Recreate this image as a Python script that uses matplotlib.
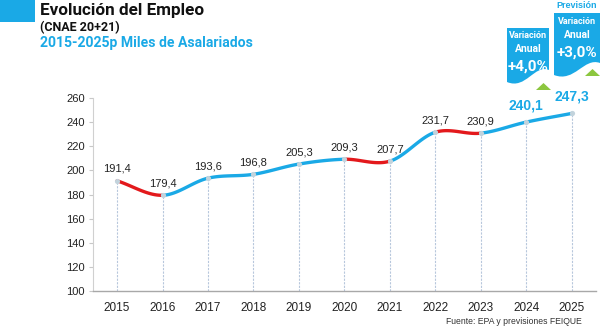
import numpy as np
import matplotlib
import matplotlib.pyplot as plt
from matplotlib.path import Path
from matplotlib.patches import PathPatch, Polygon, Rectangle

matplotlib.rcParams['font.family'] = ['Liberation Sans', 'DejaVu Sans']

# datos: miles de asalariados (2024 y 2025 previsión)
years = [2015, 2016, 2017, 2018, 2019, 2020, 2021, 2022, 2023, 2024, 2025]
empleo = [191.4, 179.4, 193.6, 196.8, 205.3, 209.3, 207.7, 231.7, 230.9, 240.1, 247.3]
variacion = ['+4,0%', '+3,0%']
yticks = [100, 120, 140, 160, 180, 200, 220, 240, 260]

AZUL = '#1aa9e6'
ROJO = '#e3191c'
VERDE = '#8cc63f'


def catmull_rom(xs, ys, n=30):
    # tramos suavizados entre puntos consecutivos
    xs = np.asarray(xs, float)
    ys = np.asarray(ys, float)
    px = np.concatenate([[2 * xs[0] - xs[1]], xs, [2 * xs[-1] - xs[-2]]])
    py = np.concatenate([[2 * ys[0] - ys[1]], ys, [2 * ys[-1] - ys[-2]]])
    tramos = []
    t = np.linspace(0, 1, n)
    for i in range(1, len(px) - 2):
        p0, p1, p2, p3 = [np.array([px[j], py[j]]) for j in range(i - 1, i + 3)]
        pts = 0.5 * ((2 * p1)[:, None] + (-p0 + p2)[:, None] * t
                     + (2 * p0 - 5 * p1 + 4 * p2 - p3)[:, None] * t ** 2
                     + (-p0 + 3 * p1 - 3 * p2 + p3)[:, None] * t ** 3)
        tramos.append(pts)
    return tramos


fig = plt.figure(figsize=(6.0, 3.27), dpi=100)
ax = fig.add_axes([0.155, 0.110, 0.838, 0.590])

x = np.arange(len(years))
ax.set_xlim(-0.53, len(years) - 1 + 0.53)
ax.set_ylim(100, 260)

for i, tramo in enumerate(catmull_rom(x, empleo)):
    color = ROJO if empleo[i + 1] < empleo[i] else AZUL
    ax.plot(tramo[0], tramo[1], color=color, lw=2.4, solid_capstyle='round', zorder=3)

ax.vlines(x, 100, empleo, colors='#b7c7dc', linestyles=(0, (2, 1.2)), lw=0.8, zorder=1)
ax.scatter(x, empleo, s=14, color='#c2d3dc', zorder=4, linewidths=0)

for i, v in enumerate(empleo):
    txt = f'{v:.1f}'.replace('.', ',')
    if i >= len(empleo) - 2:
        ax.annotate(txt, (i, v), xytext=(0, 7), textcoords='offset points', ha='center',
                    va='bottom', fontsize=10, fontweight='bold', color=AZUL)
    else:
        ax.annotate(txt, (i, v), xytext=(0, 5), textcoords='offset points', ha='center',
                    va='bottom', fontsize=8, color='#222222')

ax.set_xticks(x)
ax.set_xticklabels([str(a) for a in years], fontsize=8.5, color='#222222')
ax.tick_params(axis='x', length=0, pad=8)
ax.set_yticks(yticks)
ax.set_yticklabels([str(a) for a in yticks], fontsize=8, color='#222222')
ax.tick_params(axis='y', length=3, color='#c8c8c8', pad=3)
for s in ['top', 'right']:
    ax.spines[s].set_visible(False)
ax.spines['left'].set_color('#d0d0d0')
ax.spines['left'].set_linewidth(0.8)
ax.spines['bottom'].set_color('#a8a8a8')
ax.spines['bottom'].set_linewidth(1.0)

# capa superior en píxeles para cabecera y banderolas
ov = fig.add_axes([0, 0, 1, 1], zorder=10)
ov.set_xlim(0, 600)
ov.set_ylim(327, 0)
ov.axis('off')
ov.patch.set_alpha(0)

ov.add_patch(Rectangle((0, 0), 35, 22, color=AZUL, lw=0))
ov.text(40, 10, 'Evolución del Empleo', fontsize=12.3, fontweight='bold', color='#111111',
        va='center', ha='left', family='Roboto')
ov.text(40, 28, '(CNAE 20+21)', fontsize=9, fontweight='bold', color='#111111',
        va='center', ha='left', family='Roboto')
ov.text(40, 43, '2015-2025p Miles de Asalariados', fontsize=10.1, fontweight='bold', color=AZUL,
        va='center', ha='left', family='Roboto')


def banderola(x0, x1, top, bot_izq, bot_der):
    w = x1 - x0
    verts = [(x0, top), (x1, top), (x1, bot_der),
             (x1 - w * 0.35, bot_der - 6), (x0 + w * 0.45, bot_izq + 8), (x0, bot_izq),
             (x0, top)]
    codes = [Path.MOVETO, Path.LINETO, Path.LINETO, Path.CURVE4, Path.CURVE4, Path.CURVE4,
             Path.CLOSEPOLY]
    ov.add_patch(PathPatch(Path(verts, codes), facecolor=AZUL, edgecolor='none'))


banderola(507, 549, 28, 82, 70)
banderola(554, 600, 13, 75, 63)
ov.add_patch(Polygon([(536, 90), (551, 90), (543.5, 83)], color=VERDE, lw=0))
ov.add_patch(Polygon([(585, 76), (600, 76), (592.5, 69)], color=VERDE, lw=0))

ov.text(577, 6, 'Previsión', fontsize=6.5, fontweight='bold', color=AZUL, ha='center', va='center')
for cx, y0, var in [(528, 36, variacion[0]), (577, 22, variacion[1])]:
    ov.text(cx, y0, 'Variación', fontsize=6.5, color='white', ha='center', va='center',
            fontweight='bold', family='Roboto')
    ov.text(cx, y0 + 13, 'Anual', fontsize=7.5, color='white', ha='center', va='center',
            fontweight='bold', family='Roboto')
    ov.text(cx, y0 + 31, var, fontsize=11, color='white', ha='center', va='center',
            fontweight='bold', family='Roboto')

ov.text(582, 322, 'Fuente: EPA y previsiones FEIQUE', fontsize=6.2, color='#333333',
        ha='right', va='center')

fig.savefig('out.png', dpi=100)
